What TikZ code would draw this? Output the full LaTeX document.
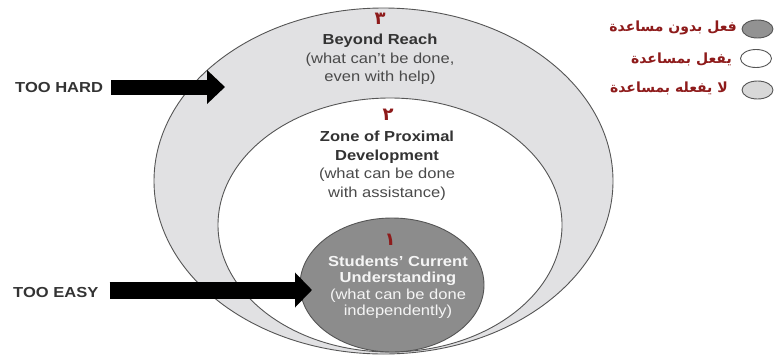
\documentclass[tikz,border=0pt]{standalone}
\usepackage{fontspec}
\setmainfont[FakeStretch=1.14]{Liberation Sans}
\newfontfamily\arabicfont[Script=Arabic]{DejaVu Sans}
\TeXXeTstate=1
\usetikzlibrary{shapes.geometric,arrows.meta}
\definecolor{outerfill}{HTML}{E1E1E3}
\definecolor{innerfill}{HTML}{8C8C8C}
\definecolor{edgegray}{HTML}{555555}
\definecolor{darkred}{HTML}{8E1B1B}
\definecolor{titlegray}{HTML}{333333}
\definecolor{bodygray}{HTML}{4A4A4A}
\definecolor{innertext}{HTML}{F5F5F5}
\definecolor{legfirst}{HTML}{929292}
\definecolor{legthird}{HTML}{D8D8D8}
\begin{document}
\begin{tikzpicture}[x=1pt,y=-1pt,
  zone/.style={ellipse, draw=edgegray, line width=0.9pt, inner sep=0pt},
  num/.style={text=darkred, font=\arabicfont\bfseries\fontsize{18}{18}\selectfont, inner sep=0pt},
  txt/.style={align=center, text=bodygray, font=\fontsize{14.5}{18.5}\selectfont, inner sep=0pt},
  lbl/.style={text=titlegray, font=\bfseries\fontsize{14.5}{14.5}\selectfont, inner sep=0pt},
  legcirc/.style={ellipse, draw=edgegray, line width=0.9pt, inner sep=0pt, minimum width=31pt, minimum height=18pt},
  legtxt/.style={text=darkred, font=\arabicfont\bfseries\fontsize{14}{14}\selectfont, inner sep=0pt, anchor=east}]
\useasboundingbox (0,0) rectangle (775,359);

% zones
\node[zone, fill=outerfill, minimum width=459pt, minimum height=346pt] (outer) at (383.5,181) {};
\node[zone, fill=white, minimum width=344pt, minimum height=254pt] (middle) at (390,225) {};
\node[zone, fill=innerfill, minimum width=184pt, minimum height=134pt] (inner) at (392,285) {};

% zone texts
\node[num] (n3) at (380,19) {\beginR ٣\endR};
\node[txt] (t3) at (380,59.5) {\textbf{\color{titlegray}Beyond Reach}\\(what can't be done,\\even with help)};
\node[num] (n2) at (388,115) {\beginR ٢\endR};
\node[txt] (t2) at (387,165.5) {\textbf{\color{titlegray}Zone of Proximal}\\\textbf{\color{titlegray}Development}\\(what can be done\\with assistance)};
\node[num] (n1) at (390,240) {\beginR ١\endR};
\node[txt, text=innertext, font=\fontsize{14.5}{16.5}\selectfont] (t1) at (398,287) {\textbf{Students' Current}\\\textbf{Understanding}\\(what can be done\\independently)};

% arrows
\node[lbl, anchor=west] (hard) at (15,88) {TOO HARD};
\coordinate (hardtip) at (225,87);
\draw[line width=15pt, -{Triangle[length=18pt,width=33pt]}] (hard.east) ++(8,-1) -- (hardtip);

\node[lbl, anchor=west] (easy) at (13,293) {TOO EASY};
\coordinate (easytip) at (312,290);
\draw[line width=17pt, -{Triangle[length=17pt,width=34pt]}] (easy.east) ++(11,-3) -- (easytip);

% legend
\node[legcirc, fill=legfirst] (c1) at (757.5,29) {};
\node[legcirc, fill=white] (c2) at (756,58.5) {};
\node[legcirc, fill=legthird] (c3) at (757.5,90) {};
\node[legtxt] (l1) at (737,28) {\beginR فعل بدون مساعدة\endR};
\node[legtxt] (l2) at (732,59) {\beginR يفعل بمساعدة\endR};
\node[legtxt] (l3) at (728,88) {\beginR لا يفعله بمساعدة\endR};
\end{tikzpicture}
\end{document}
